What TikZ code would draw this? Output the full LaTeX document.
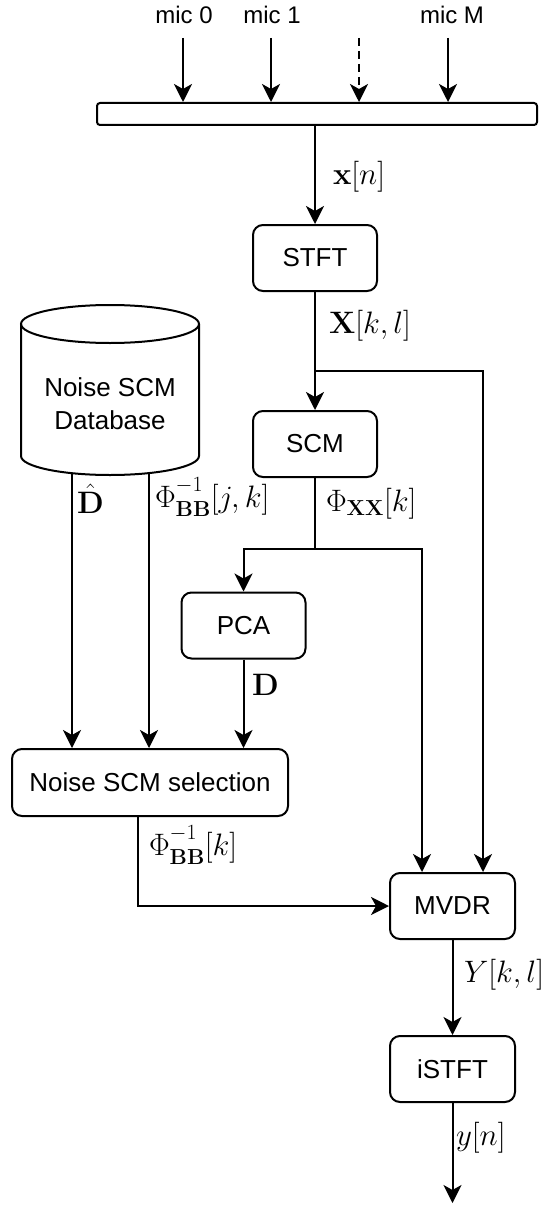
\RequirePackage{fix-cm}
\documentclass[tikz,border=0pt]{standalone}
\usepackage[no-math]{fontspec}
\newfontfamily\arial{Liberation Sans}
\usetikzlibrary{arrows.meta}
\newcommand{\phibbinv}{\Phi_{\raisebox{-2pt}{$\scriptstyle\mathbf{BB}$}}^{\raisebox{4pt}{$\scriptstyle -1$}}}
\begin{document}
\begin{tikzpicture}[x=1pt,y=-1pt,
  line width=2pt,
  arr/.style={-{Stealth[length=18pt,width=18pt,inset=5pt]}},
  blk/.style={draw, rounded corners=10pt, minimum width=124pt, minimum height=66pt,
    font=\arial\fontsize{26}{31}\selectfont, inner sep=0pt},
  lbl/.style={anchor=base west, inner sep=0pt, font=\fontsize{31}{37}\selectfont},
  miclbl/.style={anchor=base, inner sep=0pt, font=\arial\fontsize{24}{29}\selectfont}]
\useasboundingbox (0,0) rectangle (558,1212);

% microphones
\node[miclbl] (m0) at (184,24) {mic 0};
\node[miclbl] (m1) at (272,24) {mic 1};
\node[miclbl] (mM) at (452,24) {mic M};
\node[draw, rounded corners=3pt, minimum width=440pt, minimum height=22pt, inner sep=0pt] (bar) at (317,114) {};
\coordinate (a0) at (183,38);
\coordinate (a1) at (271,38);
\coordinate (ad) at (359,38);
\coordinate (aM) at (448,38);
\draw[arr] (a0) -- (a0 |- bar.north);
\draw[arr] (a1) -- (a1 |- bar.north);
\draw[arr, dash pattern=on 8pt off 5pt] (ad) -- (ad |- bar.north);
\draw[arr] (aM) -- (aM |- bar.north);

% blocks
\node[blk] (stft) at (315,258) {STFT};
\node[blk] (scm) at (315,444) {SCM};
\node[blk] (pca) at (243.5,625.5) {PCA};
\node[blk, minimum width=276pt, minimum height=67pt] (sel) at (150,782.5) {Noise SCM selection};
\node[blk, minimum width=125pt] (mvdr) at (452.5,906) {MVDR};
\node[blk, minimum width=125pt] (istft) at (452.5,1069) {iSTFT};

% database cylinder
\draw (110,324) ellipse [x radius=89pt, y radius=19pt];
\draw (21,324) -- (21,456) arc[start angle=180, end angle=360, x radius=89pt, y radius=19pt] -- (199,324);
\node[font=\arial\fontsize{26}{33}\selectfont, align=center, inner sep=0pt] (db) at (110,404) {Noise SCM\\Database};
\coordinate (d1) at (72,473);
\coordinate (d2) at (149,473);

% connectors
\draw[arr] (stft.north |- bar.south) -- (stft.north);
\draw[arr] (stft.south) -- (scm.north);
\coordinate (j1) at (315,371);
\draw[arr] (j1) -| ([xshift=30.5pt]mvdr.north);
\coordinate (j2) at (315,549);
\draw (scm.south) -- (j2);
\draw[arr] (j2) -| (pca.north);
\draw[arr] (j2) -| ([xshift=-30.5pt]mvdr.north);
\draw[arr] (pca.south) -- (pca.south |- sel.north);
\draw[arr] (d1) -- (d1 |- sel.north);
\draw[arr] (d2) -- (d2 |- sel.north);
\draw[arr] ([xshift=-12pt]sel.south) |- (mvdr.west);
\draw[arr] (mvdr.south) -- (istft.north);
\coordinate (yout) at (452.5,1203);
\draw[arr] (istft.south) -- (yout);

% labels
\node[lbl] (lxn) at (332,184) {$\mathbf{x}[n]$};
\node[lbl] (lX) at (328,333) {$\mathbf{X}[k,l]$};
\node[lbl] (lphixx) at (325,511) {$\Phi_{\mathbf{XX}}[k]$};
\node[lbl] (ldhat) at (76,513) {$\hat{\mathbf{D}}$};
\node[lbl] (lphij) at (154,507) {$\phibbinv[j,k]$};
\node[lbl] (lD) at (251,695) {$\mathbf{D}$};
\node[lbl] (lphik) at (148,855) {$\phibbinv[k]$};
\node[lbl] (lY) at (463,982) {$Y[k,l]$};
\node[lbl] (ly) at (455,1145) {$y[n]$};
\end{tikzpicture}
\end{document}
